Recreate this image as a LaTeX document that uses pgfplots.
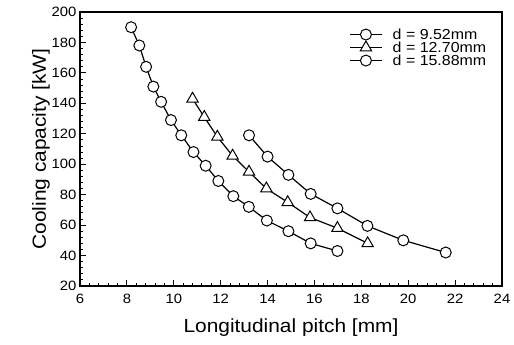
\documentclass[border=0pt]{standalone}
\usepackage{pgfplots}
\pgfplotsset{compat=1.18}
\usepackage{fontspec}
\setmainfont{Liberation Sans}[FakeStretch=1.1]
\begin{document}
\begin{tikzpicture}
\begin{axis}[
  scale only axis,
  width=422pt, height=274pt,
  xmin=6, xmax=24, ymin=20, ymax=200,
  xtick={6,8,...,24}, ytick={20,40,...,200},
  minor x tick num=4, minor y tick num=4,
  tick align=inside, xtick pos=bottom, ytick pos=left,
  major tick length=6pt, minor tick length=3pt,
  axis line style={line width=1.1pt},
  every tick/.style={black, line width=0.9pt},
  /pgf/number format/assume math mode=true,
  ticklabel style={font=\fontsize{13.5}{15}\selectfont},
  xticklabel style={yshift=-5pt},
  xlabel={Longitudinal pitch [mm]},
  ylabel={Cooling capacity [kW]},
  label style={font=\fontsize{19}{21}\selectfont},
  xlabel style={yshift=-8pt},
  ylabel style={yshift=-5pt},
  legend style={draw=none, fill=none, at={(0.975,0.955)}, anchor=north east,
    font=\fontsize{14.5}{16}\selectfont, row sep=-3pt},
  legend cell align=left,
  legend image code/.code={
    \draw[mark repeat=2,mark phase=2] plot coordinates {(0cm,0cm) (0.55cm,0cm) (1.1cm,0cm)};
    \path (1.4cm,0cm);},
  every axis plot/.append style={black, line width=1.2pt, mark size=5.5pt,
    mark options={fill=white, solid, line width=1pt}},
]
\addplot[mark=*] coordinates {
(8.18,190) (8.53,178) (8.82,164) (9.13,151) (9.46,141) (9.88,129)
(10.32,119) (10.84,108) (11.36,99) (11.9,89) (12.54,79) (13.2,72)
(13.97,63) (14.89,56) (15.84,48) (16.98,43)};
\addlegendentry{d = 9.52mm}
\addplot[mark=triangle*, mark size=6.5pt] coordinates {
(10.8,143) (11.3,131) (11.86,118) (12.51,105.5) (13.21,95) (13.95,84)
(14.86,75) (15.81,65) (16.98,58) (18.27,48)};
\addlegendentry{d = 12.70mm}
\addplot[mark=*] coordinates {
(13.21,119) (14.0,105) (14.89,93) (15.84,80.5) (16.98,71) (18.26,59.5)
(19.79,50) (21.6,42)};
\addlegendentry{d = 15.88mm}
\end{axis}
\pgfresetboundingbox
\path (current axis.south west) ++(-80pt,-59pt) rectangle ++(514pt,345pt);
\end{tikzpicture}
\end{document}
